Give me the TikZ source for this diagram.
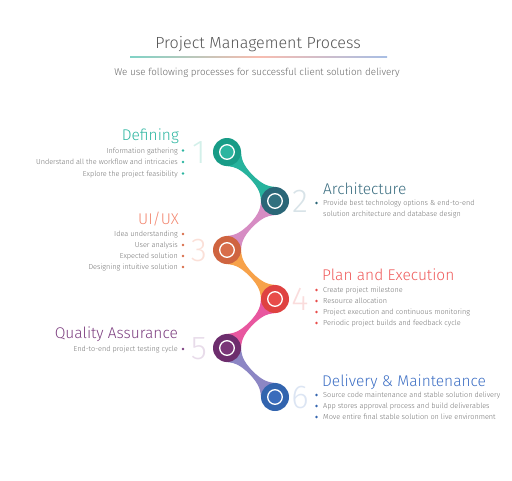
\documentclass[tikz,border=0pt]{standalone}
\usepackage{fontspec}
\setmainfont{Fira Sans Light}
\usetikzlibrary{calc,backgrounds}
\definecolor{titlec}{HTML}{555555}
\definecolor{subc}{HTML}{666666}
\definecolor{txt}{HTML}{747474}
\definecolor{d1}{HTML}{189C87}\definecolor{l1}{HTML}{2CB5A0}\definecolor{h1}{HTML}{2BB5A0}\definecolor{g1}{HTML}{D3F0EA}\definecolor{k1}{HTML}{27B39D}
\definecolor{d2}{HTML}{2A6677}\definecolor{l2}{HTML}{31707F}\definecolor{h2}{HTML}{3A6D80}\definecolor{g2}{HTML}{D8E3E8}\definecolor{k2}{HTML}{D68CC3}
\definecolor{d3}{HTML}{CF6440}\definecolor{l3}{HTML}{D86D4A}\definecolor{h3}{HTML}{F2866F}\definecolor{g3}{HTML}{FBE0D8}\definecolor{k3}{HTML}{F7A24A}
\definecolor{d4}{HTML}{DF4241}\definecolor{l4}{HTML}{E84C4A}\definecolor{h4}{HTML}{EF5B5B}\definecolor{g4}{HTML}{FADCDC}\definecolor{k4}{HTML}{E8579F}
\definecolor{d5}{HTML}{6D2D6D}\definecolor{l5}{HTML}{7A3678}\definecolor{h5}{HTML}{7D3F80}\definecolor{g5}{HTML}{E8DCEA}\definecolor{k5}{HTML}{8C86C4}
\definecolor{d6}{HTML}{3264AE}\definecolor{l6}{HTML}{3A6CBC}\definecolor{h6}{HTML}{3D6FC4}\definecolor{g6}{HTML}{DCE5F3}
% metaball-like neck between two stage circles (radius 14pt, half-neck 2.2pt)
\newcommand\neck[3]{%
  \coordinate (A) at (#1.center); \coordinate (B) at (#2.center);
  \coordinate (mm) at ($(A)!0.5!(B)$);
  \coordinate (ta) at ($(A)!21.8pt!(B)$);
  \coordinate (tb) at ($(B)!21.8pt!(A)$);
  \coordinate (e1) at ($(A)!14pt!50:(B)$);
  \coordinate (e2) at ($(A)!14pt!-50:(B)$);
  \coordinate (f1) at ($(B)!14pt!-50:(A)$);
  \coordinate (f2) at ($(B)!14pt!50:(A)$);
  \coordinate (m1) at ($(mm)!2.2pt!90:(B)$);
  \coordinate (m2) at ($(mm)!2.2pt!-90:(B)$);
  \coordinate (p1) at ($(A)!2.2pt!90:(B)$);
  \coordinate (p2) at ($(A)!2.2pt!-90:(B)$);
  \coordinate (q1) at ($(B)!2.2pt!-90:(A)$);
  \coordinate (q2) at ($(B)!2.2pt!90:(A)$);
  \fill[#3] (A) -- (e1) .. controls ($(e1)!0.4!(ta)$) and ($(m1)!0.45!(p1)$) .. (m1)
     .. controls ($(m1)!0.45!(q1)$) and ($(f1)!0.4!(tb)$) .. (f1) -- (B) -- (f2)
     .. controls ($(f2)!0.4!(tb)$) and ($(m2)!0.45!(q2)$) .. (m2)
     .. controls ($(m2)!0.45!(p2)$) and ($(e2)!0.4!(ta)$) .. (e2) -- cycle;}
\tikzset{
  stage/.style={circle, fill=#1, minimum size=28pt, inner sep=0pt},
  head/.style={font=\fontsize{15.5}{16}\selectfont, inner sep=0pt},
  item/.style={font=\fontsize{7.3}{8}\selectfont, text=txt, inner sep=0pt},
  num/.style={font=\fontsize{33}{33}\selectfont, inner sep=0pt, anchor=base},
  bdot/.style={circle, fill=#1, inner sep=0pt, minimum size=2.6pt},
}
\newcommand\core[2]{\fill[#2] (#1.center) circle (7pt); \draw[white, line width=1.3pt] (#1.center) circle (7.3pt);}
\begin{document}
\begin{tikzpicture}[x=1pt,y=-1pt]
\useasboundingbox (0,0) rectangle (512,480);
% title
\node[anchor=base, font=\fontsize{16.1}{17}\selectfont, text=titlec, inner sep=0pt] (title) at (258,48.3) {Project Management Process};
\shade[left color=h1!60, right color=h6!45, middle color=h3!55] (130,56) rectangle (387,57.6);
\node[anchor=base, font=\fontsize{9.8}{10}\selectfont, text=subc, inner sep=0pt] (sub) at (257,75.5) {We use following processes for successful client solution delivery};
% stages
\node[stage=d1] (s1) at (227,152) {};
\node[stage=d2] (s2) at (275,201) {};
\node[stage=d3] (s3) at (227,250) {};
\node[stage=d4] (s4) at (275,299) {};
\node[stage=d5] (s5) at (227,348) {};
\node[stage=d6] (s6) at (275,397) {};
\core{s1}{l1}\core{s2}{l2}\core{s3}{l3}\core{s4}{l4}\core{s5}{l5}\core{s6}{l6}
\begin{scope}[on background layer]
\neck{s1}{s2}{k1}
\neck{s2}{s3}{k2}
\neck{s3}{s4}{k3}
\neck{s4}{s5}{k4}
\neck{s5}{s6}{k5}
\end{scope}
% numbers
\node[num, text=g1] (n1) at (199,163.5) {1};
\node[num, text=g2] (n2) at (300,212.5) {2};
\node[num, text=g3] (n3) at (199,261.5) {3};
\node[num, text=g4] (n4) at (300,310.5) {4};
\node[num, text=g5] (n5) at (199,359.5) {5};
\node[num, text=g6] (n6) at (300,408.5) {6};
% 1 Defining
\node[head, text=h1, anchor=base east] (t1) at (179,140) {Defining};
\node[item, anchor=base east] (i11) at (178,153) {Information gathering};
\node[item, anchor=base east] (i12) at (178,164.5) {Understand all the workflow and intricacies};
\node[item, anchor=base east] (i13) at (178,176) {Explore the project feasibility};
\node[bdot=h1] (b11) at (183,150.5) {};
\node[bdot=h1] (b12) at (183,162) {};
\node[bdot=h1] (b13) at (183,173.5) {};
% 2 Architecture
\node[head, text=h2, anchor=base west] (t2) at (323,194) {Architecture};
\node[item, anchor=base west] (i21) at (323,205.5) {Provide best technology options \& end-to-end};
\node[item, anchor=base west] (i22) at (323,216.8) {solution architecture and database design};
\node[bdot=d2] (b21) at (316.5,203) {};
% 3 UI/UX
\node[head, text=h3, anchor=base east] (t3) at (179,224) {UI/UX};
\node[item, anchor=base east] (i31) at (178,236.5) {Idea understanding};
\node[item, anchor=base east] (i32) at (178,247.5) {User analysis};
\node[item, anchor=base east] (i33) at (178,258.5) {Expected solution};
\node[item, anchor=base east] (i34) at (178,269.5) {Designing intuitive solution};
\node[bdot=l3] (b31) at (183,234) {};
\node[bdot=l3] (b32) at (183,245) {};
\node[bdot=l3] (b33) at (183,256) {};
\node[bdot=l3] (b34) at (183,267) {};
% 4 Plan
\node[head, text=h4, anchor=base west] (t4) at (322,280.7) {Plan and Execution};
\node[item, anchor=base west] (i41) at (323,292.5) {Create project milestone};
\node[item, anchor=base west] (i42) at (323,303.5) {Resource allocation};
\node[item, anchor=base west] (i43) at (323,314.5) {Project execution and continuous monitoring};
\node[item, anchor=base west] (i44) at (323,325.5) {Periodic project builds and feedback cycle};
\node[bdot=l4] (b41) at (316.5,290) {};
\node[bdot=l4] (b42) at (316.5,301) {};
\node[bdot=l4] (b43) at (316.5,312) {};
\node[bdot=l4] (b44) at (316.5,323) {};
% 5 QA
\node[head, text=h5, anchor=base east] (t5) at (178,338) {Quality Assurance};
\node[item, anchor=base east] (i51) at (178,351.5) {End-to-end project testing cycle};
\node[bdot=h5] (b51) at (183,349) {};
% 6 Delivery
\node[head, text=h6, anchor=base west] (t6) at (322,386) {Delivery \& Maintenance};
\node[item, anchor=base west] (i61) at (323,397.5) {Source code maintenance and stable solution delivery};
\node[item, anchor=base west] (i62) at (323,408.5) {App stores approval process and build deliverables};
\node[item, anchor=base west] (i63) at (323,419.5) {Move entire final stable solution on live environment};
\node[bdot=d6] (b61) at (316.5,395) {};
\node[bdot=d6] (b62) at (316.5,406) {};
\node[bdot=d6] (b63) at (316.5,417) {};
\end{tikzpicture}
\end{document}
